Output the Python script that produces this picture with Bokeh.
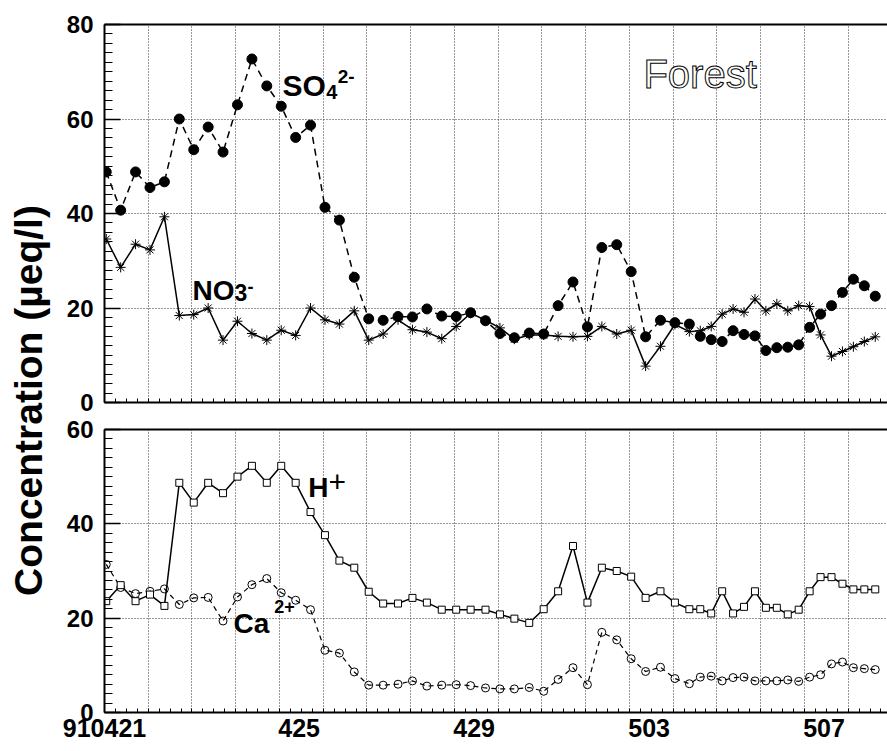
from bokeh.plotting import figure
from bokeh.models import Range1d, FixedTicker, SingleIntervalTicker, LinearAxis
from bokeh.layouts import row, column
from bokeh.embed import file_html
from bokeh.resources import INLINE
from bokeh.core.properties import value
import math

# sample times (days after 910421 00h)
days = [0.04, 0.37, 0.71, 1.04, 1.37, 1.71, 2.04, 2.37, 2.71, 3.04,
        3.37, 3.71, 4.04, 4.37, 4.71, 5.04, 5.37, 5.71, 6.04, 6.37,
        6.71, 7.04, 7.37, 7.71, 8.04, 8.37, 8.71, 9.04, 9.37, 9.71,
        10.04, 10.37, 10.71, 11.04, 11.37, 11.71, 12.04, 12.37, 12.71, 13.04,
        13.37, 13.62, 13.87, 14.12, 14.37, 14.62, 14.87, 15.12, 15.37, 15.62,
        15.87, 16.12, 16.37, 16.62, 16.87, 17.12, 17.37, 17.62]

so4 = [48.8, 40.7, 48.8, 45.5, 46.7, 60.0, 53.5, 58.3, 53.0, 63.0,
       72.7, 67.0, 62.7, 56.1, 58.7, 41.3, 38.6, 26.5, 17.7, 17.4,
       18.2, 18.1, 19.8, 18.3, 18.2, 19.0, 17.3, 14.6, 13.7, 14.7,
       14.5, 20.5, 25.5, 16.0, 32.8, 33.4, 27.7, 13.9, 17.4, 16.9,
       16.6, 14.0, 13.3, 12.9, 15.2, 14.4, 14.1, 11.0, 11.6, 11.7,
       12.2, 15.9, 18.7, 20.5, 23.3, 26.1, 24.7, 22.5]

no3 = [34.6, 28.6, 33.5, 32.3, 39.3, 18.4, 18.6, 20.0, 13.2, 17.2,
       14.6, 13.2, 15.3, 14.2, 20.0, 17.5, 16.6, 19.4, 13.2, 14.5,
       17.5, 15.4, 14.9, 13.5, 16.1, 18.9, 17.4, 15.8, 13.4, 14.3,
       14.3, 14.0, 13.9, 14.0, 16.1, 14.5, 15.3, 7.7, 11.9, 16.5,
       15.0, 15.2, 16.1, 18.7, 19.8, 19.1, 21.9, 19.4, 20.9, 19.4,
       20.5, 20.3, 14.3, 9.8, 10.8, 11.8, 12.9, 13.9]

h_ion = [23.6, 27.0, 23.6, 25.0, 22.6, 48.7, 44.5, 48.7, 46.5, 50.0,
         52.3, 48.7, 52.3, 48.7, 42.5, 37.6, 32.2, 30.7, 25.6, 23.1,
         23.1, 24.3, 23.3, 21.8, 21.8, 21.8, 21.8, 20.8, 19.9, 19.0,
         21.9, 25.7, 35.3, 23.3, 30.7, 30.0, 28.8, 24.3, 25.7, 23.3,
         21.9, 21.9, 21.0, 25.7, 21.0, 22.4, 25.7, 22.2, 22.2, 20.8,
         21.8, 25.7, 28.7, 28.7, 27.3, 26.1, 26.1, 26.1]

ca = [31.4, 26.5, 25.2, 25.7, 26.2, 22.9, 24.3, 24.4, 19.4, 24.5,
      27.1, 28.4, 25.4, 23.8, 21.8, 13.2, 12.6, 8.6, 5.8, 5.8,
      6.0, 6.7, 5.6, 5.8, 5.9, 5.7, 5.2, 5.0, 5.0, 5.3,
      4.5, 7.0, 9.5, 5.9, 17.0, 15.4, 11.4, 8.7, 9.6, 7.2,
      6.1, 7.5, 7.7, 6.7, 7.4, 7.5, 6.7, 6.7, 6.7, 6.9,
      6.6, 7.5, 8.0, 10.3, 10.7, 9.5, 9.3, 9.1]

tick_days = [0, 4.45, 8.45, 12.45, 16.45]
tick_labels = ["910421", "425", "429", "503", "507"]
grid_days = list(range(1, 18))
minor_days = [q / 4 for q in range(0, 72)]

FONT = "Liberation Sans"
X_END = 17.90
GRID_COLOR = "#333333"


def style(p, show_labels):
    p.outline_line_color = None
    p.background_fill_color = "white"
    p.border_fill_color = "white"
    # y axis
    ya = p.yaxis[0]
    ya.ticker = SingleIntervalTicker(interval=20, num_minor_ticks=10)
    ya.axis_line_width = 2
    ya.major_tick_in = 16
    ya.major_tick_out = 0
    ya.minor_tick_in = 8
    ya.minor_tick_out = 0
    ya.major_tick_line_width = 1.5
    ya.minor_tick_line_width = 1
    ya.major_label_standoff = 11
    ya.major_label_text_font = FONT
    ya.major_label_text_font_style = "bold"
    ya.major_label_text_font_size = "24px"
    ya.major_label_text_color = "black"
    # x axis
    xa = p.xaxis[0]
    xa.axis_line_width = 2
    xa.major_tick_out = 0
    xa.minor_tick_out = 0
    xa.minor_tick_in = 4
    xa.major_tick_in = 0
    xa.major_tick_line_color = None
    if show_labels:
        xa.ticker = FixedTicker(ticks=tick_days, minor_ticks=minor_days)
        xa.major_label_overrides = dict(zip(tick_days, tick_labels))
        xa.major_label_standoff = 6
        xa.major_label_text_font = FONT
        xa.major_label_text_font_style = "bold"
        xa.major_label_text_font_size = "25px"
        xa.major_label_text_color = "black"
    else:
        xa.ticker = FixedTicker(ticks=[], minor_ticks=minor_days)
        xa.major_label_text_font_size = "0px"
        xa.major_label_standoff = 0
    # top border line
    top = LinearAxis(ticker=FixedTicker(ticks=[]), axis_line_width=2,
                     major_tick_in=0, major_tick_out=0, minor_tick_in=0, minor_tick_out=0,
                     major_label_text_font_size="0px", major_label_standoff=0)
    p.add_layout(top, "above")
    # grids
    p.xgrid[0].ticker = FixedTicker(ticks=grid_days)
    for g in (p.xgrid[0], p.ygrid[0]):
        g.grid_line_color = GRID_COLOR
        g.grid_line_dash = "1 2"
        g.grid_line_width = 1


def add_text(p, x, y, txt, size, bold=True):
    p.text(x=[x], y=[y], text=[txt], text_font=value(FONT),
           text_font_style="bold" if bold else "normal",
           text_font_size=size, text_color="black",
           text_align="left", text_baseline="alphabetic")


# --- title column ---
p0 = figure(width=58, height=751, x_range=Range1d(0, 58), y_range=Range1d(0, 751),
            x_axis_type=None, y_axis_type=None, output_backend="svg",
            toolbar_location=None, min_border=0)
p0.outline_line_color = None
p0.xgrid.visible = False
p0.ygrid.visible = False
p0.text(x=[28], y=[351], text=["Concentration (µeq/l)"], angle=math.pi / 2,
        text_font=value(FONT), text_font_style="bold", text_font_size="39px",
        text_color="black", text_align="center", text_baseline="alphabetic")

# --- top panel ---
p1 = figure(width=829, height=416, x_range=Range1d(0, X_END), y_range=Range1d(0, 80),
            output_backend="svg", toolbar_location=None,
            min_border_left=46, min_border_right=0, min_border_top=24, min_border_bottom=14)
style(p1, False)
p1.line(days, so4, line_color="black", line_width=1.5, line_dash="7 5")
p1.scatter(days, so4, marker="circle", size=10, fill_color="black", line_color="black")
p1.line(days, no3, line_color="black", line_width=1.5)
p1.scatter(days, no3, marker="asterisk", size=10, line_color="black", line_width=1)

add_text(p1, 4.07, 67.0, "SO", "30px")
add_text(p1, 5.07, 65.7, "4", "20px")
add_text(p1, 5.33, 69.0, "2-", "19px")
add_text(p1, 2.01, 23.8, "NO", "28px")
add_text(p1, 2.97, 23.2, "3", "23px")
add_text(p1, 3.27, 24.6, "-", "18px")
p1.text(x=[12.32], y=[69.6], text=["Forest"], text_font=value(FONT),
        text_font_size="40px", text_color="white", text_outline_color="black",
        text_align="left", text_baseline="alphabetic")

# --- bottom panel ---
p2 = figure(width=829, height=335, x_range=p1.x_range, y_range=Range1d(0, 60),
            output_backend="svg", toolbar_location=None,
            min_border_left=46, min_border_right=0, min_border_top=13, min_border_bottom=39)
style(p2, True)
p2.line(days, ca, line_color="black", line_width=1.2, line_dash="5 4")
p2.scatter(days, ca, marker="circle", size=8, fill_color=None, line_color="black", line_width=1)
p2.line(days, h_ion, line_color="black", line_width=1.5)
p2.scatter(days, h_ion, marker="square", size=7, fill_color="white", line_color="black", line_width=1)

add_text(p2, 4.66, 47.6, "H", "28px")
add_text(p2, 5.12, 48.9, "+", "30px", bold=False)
add_text(p2, 2.95, 18.9, "Ca", "28px")
add_text(p2, 3.88, 22.4, "2+", "18px")

layout = row(p0, column(p1, p2))
open("out.html", "w").write(file_html(layout, INLINE))
